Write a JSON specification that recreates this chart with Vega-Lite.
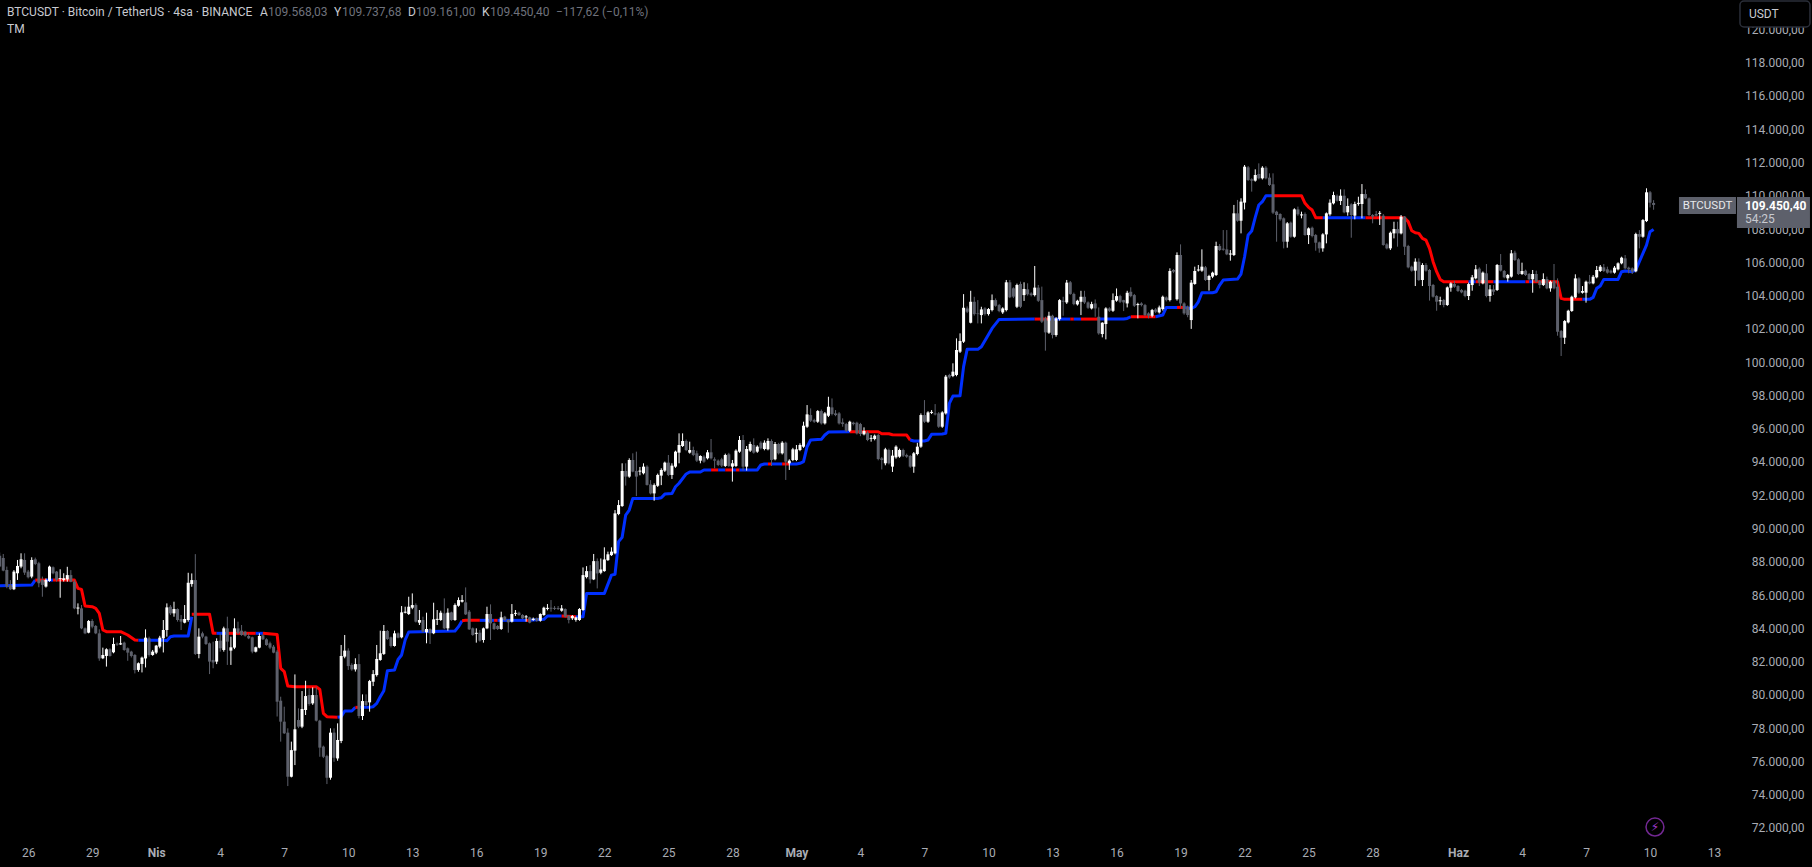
{"$schema":"https://vega.github.io/schema/vega-lite/v6.json","width":1812,"height":867,"autosize":{"type":"none"},"padding":0,"background":"#000000","config":{"view":{"stroke":null},"font":"Roboto"},
"encoding":{"x":{"field":"t","type":"temporal","title":null,"scale":{"type":"utc","domain":["2025-03-24T16:20:00Z","2025-06-17T14:08:00Z"]},"axis":{"orient":"bottom","grid":false,"domain":false,"ticks":false,"labelPadding":-15,"labelBaseline":"middle","labelFont":"Roboto","labelFontSize":12,"labelColor":"#a9acb4","labelOverlap":false,"labelBound":false,"labelFlush":false,"labelFontWeight":{"condition":{"test":"utcdate(datum.value)==1","value":"bold"},"value":"normal"},"values":["2025-03-26T00:00:00Z","2025-03-29T00:00:00Z","2025-04-01T00:00:00Z","2025-04-04T00:00:00Z","2025-04-07T00:00:00Z","2025-04-10T00:00:00Z","2025-04-13T00:00:00Z","2025-04-16T00:00:00Z","2025-04-19T00:00:00Z","2025-04-22T00:00:00Z","2025-04-25T00:00:00Z","2025-04-28T00:00:00Z","2025-05-01T00:00:00Z","2025-05-04T00:00:00Z","2025-05-07T00:00:00Z","2025-05-10T00:00:00Z","2025-05-13T00:00:00Z","2025-05-16T00:00:00Z","2025-05-19T00:00:00Z","2025-05-22T00:00:00Z","2025-05-25T00:00:00Z","2025-05-28T00:00:00Z","2025-06-01T00:00:00Z","2025-06-04T00:00:00Z","2025-06-07T00:00:00Z","2025-06-10T00:00:00Z","2025-06-13T00:00:00Z"],"labelExpr":"utcdate(datum.value)==1 ? (utcmonth(datum.value)==3 ? 'Nis' : utcmonth(datum.value)==4 ? 'May' : 'Haz') : ''+utcdate(datum.value)"}},
"y":{"field":"p","type":"quantitative","title":null,"scale":{"domain":[69654,121769],"nice":false,"zero":false},"axis":{"orient":"right","grid":false,"domain":false,"ticks":false,"labelAlign":"right","labelPadding":-8,"labelFont":"Roboto","labelFontSize":12,"labelColor":"#a9acb4","labelOverlap":false,"labelBound":false,"labelFlush":false,"values":[72000,74000,76000,78000,80000,82000,84000,86000,88000,90000,92000,94000,96000,98000,100000,102000,104000,106000,108000,110000,112000,114000,116000,118000,120000],"labelExpr":"floor(datum.value/1000)+'.000,00'"}}},
"layer":[
{"data":{"format":{"parse":{"t":"utc:'%y%m%d%H'"}},"values":[
{"t":"25032416","p":86560,"g":1,"d":"up"},{"t":"25032604","p":86600,"g":1,"d":"up"},{"t":"25032608","p":86900,"g":1,"d":"up"},
{"t":"25032608","p":86900,"g":2,"d":"down"},{"t":"25032620","p":86900,"g":2,"d":"down"},
{"t":"25032620","p":86900,"g":3,"d":"up"},{"t":"25032704","p":86900,"g":3,"d":"up"},
{"t":"25032704","p":86900,"g":4,"d":"down"},{"t":"25032804","p":86900,"g":4,"d":"down"},{"t":"25032808","p":86400,"g":4,"d":"down"},{"t":"25032812","p":86340,"g":4,"d":"down"},{"t":"25032816","p":85340,"g":4,"d":"down"},{"t":"25032900","p":85300,"g":4,"d":"down"},{"t":"25032904","p":85200,"g":4,"d":"down"},{"t":"25032908","p":84900,"g":4,"d":"down"},{"t":"25032912","p":83900,"g":4,"d":"down"},{"t":"25032916","p":83800,"g":4,"d":"down"},{"t":"25033008","p":83800,"g":4,"d":"down"},{"t":"25033016","p":83600,"g":4,"d":"down"},{"t":"25033100","p":83300,"g":4,"d":"down"},{"t":"25033104","p":83280,"g":4,"d":"down"},
{"t":"25033104","p":83280,"g":5,"d":"up"},{"t":"25040108","p":83280,"g":5,"d":"up"},{"t":"25040112","p":83260,"g":5,"d":"up"},{"t":"25040116","p":83500,"g":5,"d":"up"},{"t":"25040120","p":83540,"g":5,"d":"up"},{"t":"25040212","p":83540,"g":5,"d":"up"},{"t":"25040216","p":84700,"g":5,"d":"up"},
{"t":"25040216","p":84840,"g":6,"d":"down"},{"t":"25040312","p":84840,"g":6,"d":"down"},{"t":"25040316","p":83700,"g":6,"d":"down"},{"t":"25040320","p":83700,"g":6,"d":"down"},
{"t":"25040320","p":83700,"g":7,"d":"up"},{"t":"25040408","p":83700,"g":7,"d":"up"},
{"t":"25040408","p":83700,"g":8,"d":"down"},{"t":"25040516","p":83700,"g":8,"d":"down"},
{"t":"25040516","p":83700,"g":9,"d":"up"},{"t":"25040600","p":83700,"g":9,"d":"up"},
{"t":"25040600","p":83700,"g":10,"d":"down"},{"t":"25040616","p":83630,"g":10,"d":"down"},{"t":"25040620","p":81590,"g":10,"d":"down"},{"t":"25040700","p":81400,"g":10,"d":"down"},{"t":"25040704","p":80530,"g":10,"d":"down"},{"t":"25040712","p":80490,"g":10,"d":"down"},{"t":"25040812","p":80490,"g":10,"d":"down"},{"t":"25040816","p":80330,"g":10,"d":"down"},{"t":"25040820","p":78890,"g":10,"d":"down"},{"t":"25040900","p":78690,"g":10,"d":"down"},{"t":"25040912","p":78650,"g":10,"d":"down"},
{"t":"25040912","p":78650,"g":11,"d":"up"},{"t":"25040916","p":78690,"g":11,"d":"up"},{"t":"25040920","p":79030,"g":11,"d":"up"},{"t":"25041004","p":79030,"g":11,"d":"up"},{"t":"25041008","p":79250,"g":11,"d":"up"},
{"t":"25041008","p":79250,"g":12,"d":"down"},{"t":"25041012","p":79250,"g":12,"d":"down"},
{"t":"25041012","p":79250,"g":13,"d":"up"},{"t":"25041100","p":79250,"g":13,"d":"up"},{"t":"25041104","p":79290,"g":13,"d":"up"},{"t":"25041108","p":79490,"g":13,"d":"up"},{"t":"25041112","p":79890,"g":13,"d":"up"},{"t":"25041116","p":80250,"g":13,"d":"up"},{"t":"25041120","p":81450,"g":13,"d":"up"},{"t":"25041204","p":81490,"g":13,"d":"up"},{"t":"25041208","p":82130,"g":13,"d":"up"},{"t":"25041212","p":82400,"g":13,"d":"up"},{"t":"25041216","p":83300,"g":13,"d":"up"},{"t":"25041220","p":83780,"g":13,"d":"up"},{"t":"25041500","p":83840,"g":13,"d":"up"},{"t":"25041504","p":84100,"g":13,"d":"up"},{"t":"25041508","p":84460,"g":13,"d":"up"},
{"t":"25041508","p":84460,"g":14,"d":"down"},{"t":"25041512","p":84480,"g":14,"d":"down"},{"t":"25041604","p":84480,"g":14,"d":"down"},
{"t":"25041604","p":84480,"g":15,"d":"up"},{"t":"25041620","p":84480,"g":15,"d":"up"},
{"t":"25041620","p":84480,"g":16,"d":"down"},{"t":"25041700","p":84480,"g":16,"d":"down"},
{"t":"25041700","p":84480,"g":17,"d":"up"},{"t":"25041808","p":84480,"g":17,"d":"up"},
{"t":"25041808","p":84480,"g":18,"d":"down"},{"t":"25041812","p":84480,"g":18,"d":"down"},
{"t":"25041812","p":84480,"g":19,"d":"up"},{"t":"25041904","p":84540,"g":19,"d":"up"},{"t":"25041908","p":84740,"g":19,"d":"up"},{"t":"25042000","p":84740,"g":19,"d":"up"},
{"t":"25042000","p":84740,"g":20,"d":"down"},{"t":"25042016","p":84700,"g":20,"d":"down"},
{"t":"25042016","p":84700,"g":21,"d":"up"},{"t":"25042100","p":84700,"g":21,"d":"up"},{"t":"25042104","p":86100,"g":21,"d":"up"},{"t":"25042200","p":86100,"g":21,"d":"up"},{"t":"25042208","p":87200,"g":21,"d":"up"},{"t":"25042212","p":87250,"g":21,"d":"up"},{"t":"25042216","p":89210,"g":21,"d":"up"},{"t":"25042220","p":89470,"g":21,"d":"up"},{"t":"25042300","p":90810,"g":21,"d":"up"},{"t":"25042304","p":91110,"g":21,"d":"up"},{"t":"25042308","p":91810,"g":21,"d":"up"},{"t":"25042412","p":91810,"g":21,"d":"up"},{"t":"25042416","p":91850,"g":21,"d":"up"},{"t":"25042420","p":92070,"g":21,"d":"up"},{"t":"25042504","p":92100,"g":21,"d":"up"},{"t":"25042508","p":92510,"g":21,"d":"up"},{"t":"25042512","p":92720,"g":21,"d":"up"},{"t":"25042520","p":93280,"g":21,"d":"up"},{"t":"25042600","p":93400,"g":21,"d":"up"},{"t":"25042612","p":93400,"g":21,"d":"up"},{"t":"25042616","p":93520,"g":21,"d":"up"},{"t":"25042700","p":93520,"g":21,"d":"up"},
{"t":"25042700","p":93520,"g":22,"d":"down"},{"t":"25042708","p":93520,"g":22,"d":"down"},
{"t":"25042708","p":93520,"g":23,"d":"up"},{"t":"25042716","p":93520,"g":23,"d":"up"},
{"t":"25042716","p":93520,"g":24,"d":"down"},{"t":"25042800","p":93520,"g":24,"d":"down"},
{"t":"25042800","p":93520,"g":25,"d":"up"},{"t":"25042804","p":93520,"g":25,"d":"up"},
{"t":"25042804","p":93520,"g":26,"d":"down"},{"t":"25042808","p":93520,"g":26,"d":"down"},
{"t":"25042808","p":93520,"g":27,"d":"up"},{"t":"25042904","p":93520,"g":27,"d":"up"},{"t":"25042908","p":93820,"g":27,"d":"up"},{"t":"25042912","p":93880,"g":27,"d":"up"},{"t":"25042916","p":93880,"g":27,"d":"up"},
{"t":"25042916","p":93880,"g":28,"d":"down"},{"t":"25042920","p":93880,"g":28,"d":"down"},
{"t":"25042920","p":93880,"g":29,"d":"up"},{"t":"25043008","p":93880,"g":29,"d":"up"},
{"t":"25043008","p":93880,"g":30,"d":"down"},{"t":"25043016","p":93880,"g":30,"d":"down"},
{"t":"25043016","p":93880,"g":31,"d":"up"},{"t":"25050100","p":93880,"g":31,"d":"up"},{"t":"25050104","p":93920,"g":31,"d":"up"},{"t":"25050108","p":94020,"g":31,"d":"up"},{"t":"25050112","p":94920,"g":31,"d":"up"},{"t":"25050116","p":95320,"g":31,"d":"up"},{"t":"25050204","p":95360,"g":31,"d":"up"},{"t":"25050208","p":95620,"g":31,"d":"up"},{"t":"25050212","p":95800,"g":31,"d":"up"},{"t":"25050312","p":95820,"g":31,"d":"up"},
{"t":"25050312","p":95820,"g":32,"d":"down"},{"t":"25050420","p":95820,"g":32,"d":"down"},{"t":"25050500","p":95700,"g":32,"d":"down"},{"t":"25050508","p":95700,"g":32,"d":"down"},{"t":"25050512","p":95640,"g":32,"d":"down"},{"t":"25050604","p":95620,"g":32,"d":"down"},{"t":"25050608","p":95320,"g":32,"d":"down"},
{"t":"25050608","p":95320,"g":33,"d":"up"},{"t":"25050612","p":95260,"g":33,"d":"up"},{"t":"25050700","p":95260,"g":33,"d":"up"},{"t":"25050704","p":95320,"g":33,"d":"up"},{"t":"25050708","p":95660,"g":33,"d":"up"},{"t":"25050720","p":95680,"g":33,"d":"up"},{"t":"25050800","p":95720,"g":33,"d":"up"},{"t":"25050804","p":97520,"g":33,"d":"up"},{"t":"25050808","p":97960,"g":33,"d":"up"},{"t":"25050816","p":97980,"g":33,"d":"up"},{"t":"25050820","p":99730,"g":33,"d":"up"},{"t":"25050900","p":100770,"g":33,"d":"up"},{"t":"25050912","p":100770,"g":33,"d":"up"},{"t":"25050916","p":100930,"g":33,"d":"up"},{"t":"25051004","p":102030,"g":33,"d":"up"},{"t":"25051012","p":102570,"g":33,"d":"up"},{"t":"25051204","p":102590,"g":33,"d":"up"},
{"t":"25051204","p":102590,"g":34,"d":"down"},{"t":"25051220","p":102590,"g":34,"d":"down"},
{"t":"25051220","p":102590,"g":35,"d":"up"},{"t":"25051320","p":102590,"g":35,"d":"up"},
{"t":"25051320","p":102590,"g":36,"d":"down"},{"t":"25051400","p":102590,"g":36,"d":"down"},
{"t":"25051400","p":102590,"g":37,"d":"up"},{"t":"25051408","p":102590,"g":37,"d":"up"},
{"t":"25051408","p":102590,"g":38,"d":"down"},{"t":"25051504","p":102590,"g":38,"d":"down"},
{"t":"25051504","p":102590,"g":39,"d":"up"},{"t":"25051608","p":102590,"g":39,"d":"up"},{"t":"25051612","p":102630,"g":39,"d":"up"},{"t":"25051616","p":102730,"g":39,"d":"up"},
{"t":"25051616","p":102730,"g":40,"d":"down"},{"t":"25051720","p":102730,"g":40,"d":"down"},
{"t":"25051720","p":102730,"g":41,"d":"up"},{"t":"25051804","p":102830,"g":41,"d":"up"},{"t":"25051808","p":103290,"g":41,"d":"up"},{"t":"25051820","p":103290,"g":41,"d":"up"},
{"t":"25051820","p":103290,"g":42,"d":"down"},{"t":"25051904","p":103290,"g":42,"d":"down"},
{"t":"25051904","p":103290,"g":43,"d":"up"},{"t":"25051912","p":103230,"g":43,"d":"up"},{"t":"25051916","p":103330,"g":43,"d":"up"},{"t":"25051920","p":103630,"g":43,"d":"up"},{"t":"25052000","p":104175,"g":43,"d":"up"},{"t":"25052012","p":104175,"g":43,"d":"up"},{"t":"25052016","p":104235,"g":43,"d":"up"},{"t":"25052020","p":104635,"g":43,"d":"up"},{"t":"25052100","p":104935,"g":43,"d":"up"},{"t":"25052116","p":104995,"g":43,"d":"up"},{"t":"25052120","p":105295,"g":43,"d":"up"},{"t":"25052200","p":106340,"g":43,"d":"up"},{"t":"25052204","p":107640,"g":43,"d":"up"},{"t":"25052208","p":107880,"g":43,"d":"up"},{"t":"25052212","p":108705,"g":43,"d":"up"},{"t":"25052216","p":109445,"g":43,"d":"up"},{"t":"25052220","p":109645,"g":43,"d":"up"},{"t":"25052300","p":110005,"g":43,"d":"up"},{"t":"25052308","p":110005,"g":43,"d":"up"},
{"t":"25052308","p":110005,"g":44,"d":"down"},{"t":"25052416","p":110005,"g":44,"d":"down"},{"t":"25052420","p":109550,"g":44,"d":"down"},{"t":"25052500","p":109305,"g":44,"d":"down"},{"t":"25052504","p":109145,"g":44,"d":"down"},{"t":"25052508","p":108685,"g":44,"d":"down"},{"t":"25052516","p":108685,"g":44,"d":"down"},
{"t":"25052516","p":108685,"g":45,"d":"up"},{"t":"25052716","p":108685,"g":45,"d":"up"},
{"t":"25052716","p":108685,"g":46,"d":"down"},{"t":"25052908","p":108685,"g":46,"d":"down"},{"t":"25052912","p":108665,"g":46,"d":"down"},{"t":"25052916","p":108445,"g":46,"d":"down"},{"t":"25052920","p":107900,"g":46,"d":"down"},{"t":"25053000","p":107780,"g":46,"d":"down"},{"t":"25053004","p":107740,"g":46,"d":"down"},{"t":"25053008","p":107440,"g":46,"d":"down"},{"t":"25053012","p":107340,"g":46,"d":"down"},{"t":"25053016","p":106840,"g":46,"d":"down"},{"t":"25053020","p":106040,"g":46,"d":"down"},{"t":"25053100","p":105440,"g":46,"d":"down"},{"t":"25053104","p":104975,"g":46,"d":"down"},{"t":"25053108","p":104835,"g":46,"d":"down"},{"t":"25060112","p":104835,"g":46,"d":"down"},
{"t":"25060112","p":104835,"g":47,"d":"up"},{"t":"25060120","p":104835,"g":47,"d":"up"},
{"t":"25060120","p":104835,"g":48,"d":"down"},{"t":"25060216","p":104835,"g":48,"d":"down"},
{"t":"25060216","p":104835,"g":49,"d":"up"},{"t":"25060404","p":104835,"g":49,"d":"up"},
{"t":"25060404","p":104835,"g":50,"d":"down"},{"t":"25060408","p":104835,"g":50,"d":"down"},
{"t":"25060408","p":104835,"g":51,"d":"up"},{"t":"25060412","p":104835,"g":51,"d":"up"},
{"t":"25060412","p":104835,"g":52,"d":"down"},{"t":"25060516","p":104835,"g":52,"d":"down"},{"t":"25060520","p":103835,"g":52,"d":"down"},{"t":"25060600","p":103775,"g":52,"d":"down"},{"t":"25060620","p":103775,"g":52,"d":"down"},
{"t":"25060620","p":103775,"g":53,"d":"up"},{"t":"25060704","p":103775,"g":53,"d":"up"},{"t":"25060708","p":103895,"g":53,"d":"up"},{"t":"25060712","p":104435,"g":53,"d":"up"},{"t":"25060716","p":104575,"g":53,"d":"up"},{"t":"25060720","p":104975,"g":53,"d":"up"},{"t":"25060812","p":104975,"g":53,"d":"up"},{"t":"25060816","p":105440,"g":53,"d":"up"},{"t":"25060820","p":105480,"g":53,"d":"up"},{"t":"25060904","p":105440,"g":53,"d":"up"},{"t":"25060908","p":105540,"g":53,"d":"up"},{"t":"25060912","p":106040,"g":53,"d":"up"},{"t":"25060916","p":106540,"g":53,"d":"up"},{"t":"25060920","p":107040,"g":53,"d":"up"},{"t":"25061000","p":107840,"g":53,"d":"up"},{"t":"25061004","p":107980,"g":53,"d":"up"}
]},
"mark":{"type":"line","strokeWidth":3,"strokeJoin":"round","strokeCap":"butt","interpolate":"linear"},
"encoding":{"color":{"field":"d","type":"nominal","legend":null,"scale":{"domain":["up","down","head","val"],"range":["#0030ff","#ff0000","#c8cad0","#6f727c"]}},"detail":{"field":"g"},"order":{"field":"t","type":"temporal"}}},
{"data":{"format":{"parse":{"t":"utc:'%y%m%d%H'"}},"values":[
{"t":"25032416","o":88357,"h":88557,"l":87677,"c":87717},{"t":"25032420","o":88230,"h":88470,"l":87430,"c":87470},
{"t":"25032500","o":87510,"h":87710,"l":86410,"c":86510},{"t":"25032504","o":86600,"h":86900,"l":86300,"c":86350},{"t":"25032508","o":86350,"h":87500,"l":86300,"c":87410},{"t":"25032512","o":87310,"h":88110,"l":86910,"c":87750},{"t":"25032516","o":87710,"h":88510,"l":87610,"c":88150},{"t":"25032520","o":88110,"h":88510,"l":87210,"c":87350},
{"t":"25032600","o":87410,"h":87510,"l":87000,"c":87070},{"t":"25032604","o":87110,"h":88270,"l":87010,"c":88110},{"t":"25032608","o":88150,"h":88250,"l":87800,"c":87870},{"t":"25032612","o":87910,"h":88000,"l":86470,"c":86710},{"t":"25032616","o":86910,"h":87110,"l":85900,"c":86610},{"t":"25032620","o":86510,"h":87000,"l":86450,"c":86910},
{"t":"25032700","o":86850,"h":87770,"l":86800,"c":87710},{"t":"25032704","o":87670,"h":87720,"l":87250,"c":87310},{"t":"25032708","o":87410,"h":87450,"l":86810,"c":86910},{"t":"25032712","o":86960,"h":87550,"l":85840,"c":87020},{"t":"25032716","o":86910,"h":87310,"l":86810,"c":87010},{"t":"25032720","o":86940,"h":87700,"l":86800,"c":87200},
{"t":"25032800","o":87200,"h":87500,"l":86770,"c":86800},{"t":"25032804","o":86800,"h":86900,"l":85150,"c":85200},{"t":"25032808","o":85190,"h":85500,"l":84840,"c":85250},{"t":"25032812","o":85200,"h":85400,"l":83950,"c":84000},{"t":"25032816","o":84000,"h":84050,"l":83650,"c":83700},{"t":"25032820","o":83740,"h":84500,"l":83700,"c":84440},
{"t":"25032900","o":84440,"h":84550,"l":84000,"c":84100},{"t":"25032904","o":84140,"h":84200,"l":83650,"c":83700},{"t":"25032908","o":83700,"h":83940,"l":82050,"c":82190},{"t":"25032912","o":82200,"h":82840,"l":82150,"c":82400},{"t":"25032916","o":82340,"h":82800,"l":81700,"c":82740},{"t":"25032920","o":82740,"h":82800,"l":82300,"c":82340},
{"t":"25033000","o":82560,"h":83440,"l":82500,"c":83060},{"t":"25033004","o":83080,"h":83150,"l":82950,"c":83020},{"t":"25033008","o":83030,"h":83540,"l":83000,"c":83100},{"t":"25033012","o":83140,"h":83200,"l":82650,"c":82700},{"t":"25033016","o":82800,"h":82850,"l":82050,"c":82540},{"t":"25033020","o":82600,"h":82650,"l":82250,"c":82340},
{"t":"25033100","o":82400,"h":82450,"l":81290,"c":81490},{"t":"25033104","o":81500,"h":81950,"l":81390,"c":81900},{"t":"25033108","o":81860,"h":82300,"l":81350,"c":82240},{"t":"25033112","o":82190,"h":83940,"l":81650,"c":83440},{"t":"25033116","o":83400,"h":83500,"l":82300,"c":82400},{"t":"25033120","o":82400,"h":82700,"l":82350,"c":82600},
{"t":"25040100","o":82540,"h":83000,"l":82450,"c":82960},{"t":"25040104","o":82900,"h":83550,"l":82800,"c":83440},{"t":"25040108","o":83400,"h":84500,"l":82550,"c":83900},{"t":"25040112","o":83900,"h":85500,"l":83500,"c":85260},{"t":"25040116","o":85300,"h":85400,"l":84800,"c":84900},{"t":"25040120","o":84900,"h":85600,"l":84700,"c":85160},
{"t":"25040200","o":85160,"h":85200,"l":84400,"c":84500},{"t":"25040204","o":84560,"h":84800,"l":83900,"c":84400},{"t":"25040208","o":84340,"h":85400,"l":84300,"c":84560},{"t":"25040212","o":84500,"h":87340,"l":84400,"c":86740},{"t":"25040216","o":86660,"h":87300,"l":86500,"c":86900},{"t":"25040220","o":86900,"h":88460,"l":82400,"c":82460},
{"t":"25040300","o":82460,"h":84000,"l":82200,"c":83500},{"t":"25040304","o":83700,"h":83800,"l":83400,"c":83500},{"t":"25040308","o":83500,"h":83550,"l":83000,"c":83060},{"t":"25040312","o":83100,"h":83150,"l":81250,"c":82000},{"t":"25040316","o":82100,"h":83200,"l":81600,"c":81950},{"t":"25040320","o":82000,"h":83400,"l":81850,"c":83240},
{"t":"25040400","o":83260,"h":83700,"l":82600,"c":82800},{"t":"25040404","o":82700,"h":84100,"l":82600,"c":84000},{"t":"25040408","o":84000,"h":84700,"l":81800,"c":83200},{"t":"25040412","o":82660,"h":83500,"l":81800,"c":82860},{"t":"25040416","o":82840,"h":84600,"l":82750,"c":84000},{"t":"25040420","o":84000,"h":84400,"l":83650,"c":83700},
{"t":"25040500","o":83860,"h":84200,"l":83550,"c":83600},{"t":"25040504","o":83800,"h":83850,"l":83500,"c":83560},{"t":"25040508","o":83540,"h":83700,"l":83350,"c":83400},{"t":"25040512","o":83460,"h":83500,"l":82500,"c":82600},{"t":"25040516","o":82600,"h":82900,"l":82550,"c":82860},{"t":"25040520","o":82840,"h":83700,"l":82800,"c":83540},
{"t":"25040600","o":83580,"h":83650,"l":83300,"c":83340},{"t":"25040604","o":83340,"h":83400,"l":82950,"c":83000},{"t":"25040608","o":83100,"h":83200,"l":82750,"c":82840},{"t":"25040612","o":82900,"h":83000,"l":82500,"c":82540},{"t":"25040616","o":82600,"h":82700,"l":78700,"c":79590},{"t":"25040620","o":79650,"h":79890,"l":77190,"c":78390},
{"t":"25040700","o":78390,"h":79290,"l":77650,"c":77690},{"t":"25040704","o":77730,"h":77990,"l":74520,"c":75080},{"t":"25040708","o":75080,"h":77190,"l":75040,"c":76680},{"t":"25040712","o":76650,"h":81230,"l":75780,"c":77930},{"t":"25040716","o":78490,"h":79190,"l":78000,"c":78090},{"t":"25040720","o":78090,"h":80230,"l":78000,"c":79150},
{"t":"25040800","o":79090,"h":80850,"l":78790,"c":79930},{"t":"25040804","o":79990,"h":80390,"l":79350,"c":79450},{"t":"25040808","o":79490,"h":80450,"l":79400,"c":79990},{"t":"25040812","o":79990,"h":80490,"l":78400,"c":78450},{"t":"25040816","o":78450,"h":78500,"l":76280,"c":76830},{"t":"25040820","o":76890,"h":76950,"l":76200,"c":76280},
{"t":"25040900","o":76320,"h":76400,"l":74640,"c":75020},{"t":"25040904","o":75020,"h":77990,"l":74900,"c":77730},{"t":"25040908","o":77730,"h":77990,"l":75980,"c":76220},{"t":"25040912","o":76180,"h":78290,"l":76040,"c":77290},{"t":"25040916","o":77230,"h":83000,"l":77100,"c":82340},{"t":"25040920","o":82300,"h":83600,"l":82200,"c":82660},
{"t":"25041000","o":82660,"h":82800,"l":81500,"c":81730},{"t":"25041004","o":81800,"h":81900,"l":81450,"c":81530},{"t":"25041008","o":81530,"h":82200,"l":81400,"c":81850},{"t":"25041012","o":81850,"h":82450,"l":78590,"c":78730},{"t":"25041016","o":78730,"h":80030,"l":78490,"c":79630},{"t":"25041020","o":79630,"h":80030,"l":79300,"c":79390},
{"t":"25041100","o":79550,"h":80900,"l":78990,"c":80830},{"t":"25041104","o":80790,"h":81490,"l":80530,"c":81250},{"t":"25041108","o":81190,"h":83000,"l":81100,"c":82160},{"t":"25041112","o":82100,"h":83860,"l":82050,"c":82500},{"t":"25041116","o":82460,"h":84200,"l":82400,"c":83840},{"t":"25041120","o":83840,"h":83900,"l":83300,"c":83360},
{"t":"25041200","o":83460,"h":83500,"l":82850,"c":82940},{"t":"25041204","o":82940,"h":83860,"l":82900,"c":83700},{"t":"25041208","o":83700,"h":83750,"l":83400,"c":83440},{"t":"25041212","o":83460,"h":85340,"l":83400,"c":84960},{"t":"25041216","o":84940,"h":85300,"l":84900,"c":85000},{"t":"25041220","o":84860,"h":85900,"l":84800,"c":85300},
{"t":"25041300","o":85240,"h":86100,"l":85150,"c":85400},{"t":"25041304","o":85400,"h":85500,"l":84350,"c":84400},{"t":"25041308","o":84340,"h":85100,"l":84200,"c":84500},{"t":"25041312","o":84500,"h":84700,"l":83750,"c":83800},{"t":"25041316","o":83760,"h":84940,"l":83100,"c":83960},{"t":"25041320","o":83960,"h":84000,"l":83060,"c":83700},
{"t":"25041400","o":83700,"h":85540,"l":83650,"c":84540},{"t":"25041404","o":84510,"h":85100,"l":84200,"c":84570},{"t":"25041408","o":84500,"h":85060,"l":84450,"c":84940},{"t":"25041412","o":84900,"h":85800,"l":83950,"c":84000},{"t":"25041416","o":84000,"h":85200,"l":83860,"c":84940},{"t":"25041420","o":84960,"h":85000,"l":84450,"c":84500},
{"t":"25041500","o":84500,"h":85500,"l":84450,"c":85400},{"t":"25041504","o":85360,"h":85860,"l":85300,"c":85700},{"t":"25041508","o":85600,"h":86000,"l":85550,"c":85700},{"t":"25041512","o":85560,"h":86460,"l":84800,"c":84840},{"t":"25041516","o":85000,"h":85100,"l":83900,"c":83940},{"t":"25041520","o":84000,"h":84050,"l":83550,"c":83600},
{"t":"25041600","o":83670,"h":84000,"l":83140,"c":83730},{"t":"25041604","o":83740,"h":83900,"l":83200,"c":83260},{"t":"25041608","o":83300,"h":84050,"l":83140,"c":84000},{"t":"25041612","o":84000,"h":85300,"l":83950,"c":84860},{"t":"25041616","o":84860,"h":85440,"l":83300,"c":84300},{"t":"25041620","o":84300,"h":84350,"l":83900,"c":83960},
{"t":"25041700","o":84140,"h":84200,"l":83900,"c":83960},{"t":"25041704","o":83960,"h":85000,"l":83900,"c":84660},{"t":"25041708","o":84700,"h":84750,"l":84450,"c":84500},{"t":"25041712","o":84500,"h":84550,"l":83740,"c":84360},{"t":"25041716","o":84400,"h":85460,"l":84350,"c":84860},{"t":"25041720","o":84870,"h":85100,"l":84740,"c":84930},
{"t":"25041800","o":84940,"h":85000,"l":84750,"c":84800},{"t":"25041804","o":84800,"h":84850,"l":84550,"c":84600},{"t":"25041808","o":84660,"h":84800,"l":84400,"c":84720},{"t":"25041812","o":84660,"h":84700,"l":84300,"c":84340},{"t":"25041816","o":84500,"h":84650,"l":84450,"c":84580},{"t":"25041820","o":84600,"h":84650,"l":84400,"c":84460},
{"t":"25041900","o":84460,"h":84900,"l":84400,"c":84860},{"t":"25041904","o":84800,"h":85300,"l":84750,"c":85240},{"t":"25041908","o":85170,"h":85460,"l":85080,"c":85230},{"t":"25041912","o":85240,"h":85700,"l":85000,"c":85180},{"t":"25041916","o":85230,"h":85340,"l":85100,"c":85170},{"t":"25041920","o":85220,"h":85340,"l":85100,"c":85160},
{"t":"25042000","o":85060,"h":85400,"l":85000,"c":85200},{"t":"25042004","o":85160,"h":85200,"l":84650,"c":84700},{"t":"25042008","o":84760,"h":84800,"l":84300,"c":84500},{"t":"25042012","o":84600,"h":84800,"l":84500,"c":84740},{"t":"25042016","o":84500,"h":84700,"l":84400,"c":84660},{"t":"25042020","o":84500,"h":85220,"l":84450,"c":85160},
{"t":"25042100","o":85100,"h":87660,"l":85050,"c":87200},{"t":"25042104","o":87080,"h":87740,"l":87000,"c":87440},{"t":"25042108","o":87440,"h":87800,"l":86700,"c":86940},{"t":"25042112","o":86940,"h":88470,"l":86900,"c":88040},{"t":"25042116","o":88040,"h":88200,"l":86400,"c":87300},{"t":"25042120","o":87340,"h":88200,"l":87250,"c":87540},
{"t":"25042200","o":87440,"h":88870,"l":87400,"c":88140},{"t":"25042204","o":88100,"h":88610,"l":88050,"c":88450},{"t":"25042208","o":88400,"h":88870,"l":88350,"c":88610},{"t":"25042212","o":88510,"h":91110,"l":88450,"c":90910},{"t":"25042216","o":90870,"h":91710,"l":90800,"c":91410},{"t":"25042220","o":91350,"h":93920,"l":91300,"c":93460},
{"t":"25042300","o":93460,"h":93920,"l":92580,"c":93120},{"t":"25042304","o":93120,"h":94220,"l":93050,"c":94120},{"t":"25042308","o":94120,"h":94520,"l":93380,"c":93420},{"t":"25042312","o":93460,"h":94620,"l":91950,"c":93120},{"t":"25042316","o":93420,"h":93700,"l":93200,"c":93480},{"t":"25042320","o":93320,"h":93920,"l":93250,"c":93720},
{"t":"25042400","o":93720,"h":93800,"l":92580,"c":92620},{"t":"25042404","o":92650,"h":92910,"l":92050,"c":92110},{"t":"25042408","o":92110,"h":92710,"l":91670,"c":92610},{"t":"25042412","o":92570,"h":93300,"l":92500,"c":93220},{"t":"25042416","o":93180,"h":93620,"l":92610,"c":93520},{"t":"25042420","o":93480,"h":94020,"l":93400,"c":93960},
{"t":"25042500","o":93960,"h":94420,"l":93150,"c":93220},{"t":"25042504","o":93220,"h":93920,"l":92980,"c":93780},{"t":"25042508","o":93720,"h":94680,"l":93650,"c":94620},{"t":"25042512","o":94560,"h":95720,"l":93920,"c":95020},{"t":"25042516","o":94960,"h":95720,"l":94900,"c":95260},{"t":"25042520","o":95260,"h":95350,"l":94650,"c":94720},
{"t":"25042600","o":94560,"h":95220,"l":94500,"c":94720},{"t":"25042604","o":94720,"h":94920,"l":94350,"c":94420},{"t":"25042608","o":94520,"h":94680,"l":94000,"c":94080},{"t":"25042612","o":94080,"h":94400,"l":93920,"c":94360},{"t":"25042616","o":94320,"h":94400,"l":93950,"c":94020},{"t":"25042620","o":94220,"h":94720,"l":94150,"c":94580},
{"t":"25042700","o":94580,"h":95380,"l":94150,"c":94220},{"t":"25042704","o":94160,"h":94280,"l":93620,"c":94080},{"t":"25042708","o":94080,"h":94150,"l":93750,"c":93820},{"t":"25042712","o":94160,"h":94250,"l":93700,"c":93780},{"t":"25042716","o":93760,"h":94500,"l":93700,"c":94420},{"t":"25042720","o":94460,"h":94550,"l":93700,"c":93760},
{"t":"25042800","o":93720,"h":94120,"l":92820,"c":93920},{"t":"25042804","o":93760,"h":94760,"l":93700,"c":94680},{"t":"25042808","o":94620,"h":95560,"l":94550,"c":95320},{"t":"25042812","o":95320,"h":95620,"l":93480,"c":93720},{"t":"25042816","o":93720,"h":94960,"l":93480,"c":94780},{"t":"25042820","o":94680,"h":95220,"l":94600,"c":95080},
{"t":"25042900","o":95020,"h":95420,"l":94500,"c":94560},{"t":"25042904","o":94620,"h":95000,"l":94550,"c":94920},{"t":"25042908","o":95160,"h":95250,"l":94750,"c":94820},{"t":"25042912","o":94780,"h":95300,"l":94700,"c":95160},{"t":"25042916","o":94760,"h":95420,"l":94700,"c":95260},{"t":"25042920","o":95260,"h":95360,"l":93760,"c":94120},
{"t":"25043000","o":94160,"h":95200,"l":94100,"c":95080},{"t":"25043004","o":95080,"h":95150,"l":94450,"c":94520},{"t":"25043008","o":94520,"h":95250,"l":94450,"c":95160},{"t":"25043012","o":95160,"h":95220,"l":92920,"c":94020},{"t":"25043016","o":93920,"h":94160,"l":93520,"c":94080},{"t":"25043020","o":94120,"h":94850,"l":94050,"c":94760},
{"t":"25050100","o":94120,"h":95020,"l":94050,"c":94760},{"t":"25050104","o":94720,"h":95120,"l":94650,"c":95020},{"t":"25050108","o":94920,"h":96420,"l":94850,"c":96180},{"t":"25050112","o":96120,"h":97420,"l":96050,"c":96860},{"t":"25050116","o":96820,"h":97220,"l":96400,"c":96480},{"t":"25050120","o":96520,"h":96600,"l":96350,"c":96420},
{"t":"25050200","o":96420,"h":97120,"l":96350,"c":97060},{"t":"25050204","o":97060,"h":97150,"l":96250,"c":96320},{"t":"25050208","o":96320,"h":97000,"l":96250,"c":96920},{"t":"25050212","o":96780,"h":97920,"l":96700,"c":97320},{"t":"25050216","o":97280,"h":97820,"l":96800,"c":96880},{"t":"25050220","o":96920,"h":97120,"l":96750,"c":96820},
{"t":"25050300","o":96920,"h":97000,"l":96250,"c":96320},{"t":"25050304","o":96380,"h":96620,"l":96120,"c":96280},{"t":"25050308","o":96280,"h":96350,"l":95800,"c":95880},{"t":"25050312","o":95880,"h":96480,"l":95800,"c":96420},{"t":"25050316","o":96360,"h":96420,"l":96200,"c":96280},{"t":"25050320","o":96360,"h":96420,"l":95650,"c":95720},
{"t":"25050400","o":96280,"h":96350,"l":95550,"c":95680},{"t":"25050404","o":95660,"h":96080,"l":95600,"c":95860},{"t":"25050408","o":95760,"h":95850,"l":95250,"c":95320},{"t":"25050412","o":95390,"h":95620,"l":95220,"c":95450},{"t":"25050416","o":95380,"h":95650,"l":95300,"c":95580},{"t":"25050420","o":95620,"h":95700,"l":94100,"c":94180},
{"t":"25050500","o":94220,"h":94300,"l":93550,"c":94120},{"t":"25050504","o":93920,"h":94850,"l":93800,"c":94760},{"t":"25050508","o":94720,"h":94800,"l":93850,"c":93920},{"t":"25050512","o":93720,"h":94720,"l":93400,"c":94380},{"t":"25050516","o":94280,"h":95000,"l":94200,"c":94920},{"t":"25050520","o":94320,"h":94800,"l":94250,"c":94720},
{"t":"25050600","o":94720,"h":94800,"l":94300,"c":94380},{"t":"25050604","o":94420,"h":94500,"l":94250,"c":94320},{"t":"25050608","o":94360,"h":94420,"l":93650,"c":93720},{"t":"25050612","o":93720,"h":94600,"l":93350,"c":94520},{"t":"25050616","o":94480,"h":95150,"l":94400,"c":94920},{"t":"25050620","o":94920,"h":96920,"l":94850,"c":96820},
{"t":"25050700","o":96820,"h":97720,"l":96350,"c":96420},{"t":"25050704","o":96420,"h":97050,"l":96350,"c":96980},{"t":"25050708","o":96950,"h":97120,"l":96880,"c":97010},{"t":"25050712","o":96920,"h":97480,"l":96800,"c":96860},{"t":"25050716","o":96920,"h":97000,"l":96050,"c":96120},{"t":"25050720","o":96120,"h":97050,"l":96050,"c":96980},
{"t":"25050800","o":96920,"h":99230,"l":96850,"c":99130},{"t":"25050804","o":99230,"h":99300,"l":99000,"c":99080},{"t":"25050808","o":99170,"h":99930,"l":99100,"c":99430},{"t":"25050812","o":99230,"h":101430,"l":99150,"c":100730},{"t":"25050816","o":100630,"h":101730,"l":100550,"c":101270},{"t":"25050820","o":101230,"h":104090,"l":101150,"c":103270},
{"t":"25050900","o":103230,"h":103350,"l":102950,"c":103030},{"t":"25050904","o":102370,"h":104290,"l":102330,"c":103630},{"t":"25050908","o":103630,"h":103930,"l":102800,"c":102890},{"t":"25050912","o":102930,"h":103730,"l":102330,"c":102890},{"t":"25050916","o":102830,"h":103330,"l":102330,"c":103170},{"t":"25050920","o":103230,"h":103300,"l":102800,"c":102890},
{"t":"25051000","o":102890,"h":103250,"l":102800,"c":103190},{"t":"25051004","o":103130,"h":104070,"l":103050,"c":103730},{"t":"25051008","o":103730,"h":103830,"l":103330,"c":103390},{"t":"25051012","o":103430,"h":103500,"l":103000,"c":103070},{"t":"25051016","o":102990,"h":103300,"l":102900,"c":103230},{"t":"25051020","o":103130,"h":104940,"l":103050,"c":104800},
{"t":"25051100","o":104800,"h":104940,"l":103850,"c":103900},{"t":"25051104","o":104440,"h":104500,"l":103850,"c":103940},{"t":"25051108","o":103330,"h":104720,"l":103250,"c":104640},{"t":"25051112","o":104700,"h":104840,"l":103250,"c":103330},{"t":"25051116","o":104030,"h":104800,"l":103680,"c":104400},{"t":"25051120","o":104380,"h":104740,"l":104000,"c":104080},
{"t":"25051200","o":104130,"h":104200,"l":103950,"c":104030},{"t":"25051204","o":104030,"h":105780,"l":103950,"c":104480},{"t":"25051208","o":104480,"h":104640,"l":103620,"c":103690},{"t":"25051212","o":103730,"h":104540,"l":102350,"c":102430},{"t":"25051216","o":102630,"h":102730,"l":100690,"c":101790},{"t":"25051220","o":101770,"h":103030,"l":101700,"c":102790},
{"t":"25051300","o":102790,"h":102850,"l":101430,"c":101630},{"t":"25051304","o":101630,"h":102700,"l":101530,"c":102630},{"t":"25051308","o":102590,"h":103790,"l":102500,"c":103730},{"t":"25051312","o":103690,"h":103930,"l":102790,"c":103630},{"t":"25051316","o":103590,"h":104940,"l":103500,"c":104780},{"t":"25051320","o":104800,"h":104880,"l":104050,"c":104100},
{"t":"25051400","o":104100,"h":104180,"l":103420,"c":103490},{"t":"25051404","o":103470,"h":103750,"l":103400,"c":103690},{"t":"25051408","o":103630,"h":104290,"l":102830,"c":103930},{"t":"25051412","o":103930,"h":104290,"l":103500,"c":103590},{"t":"25051416","o":103590,"h":103650,"l":103200,"c":103270},{"t":"25051420","o":103230,"h":103630,"l":103170,"c":103490},
{"t":"25051500","o":103530,"h":103770,"l":102730,"c":103230},{"t":"25051504","o":102730,"h":103290,"l":101650,"c":101730},{"t":"25051508","o":101690,"h":102400,"l":101490,"c":102370},{"t":"25051512","o":102290,"h":103300,"l":101370,"c":103230},{"t":"25051516","o":103230,"h":103300,"l":103020,"c":103090},{"t":"25051520","o":103090,"h":104130,"l":103020,"c":103730},
{"t":"25051600","o":103700,"h":104430,"l":103630,"c":103970},{"t":"25051604","o":103970,"h":104050,"l":103550,"c":103630},{"t":"25051608","o":103730,"h":103750,"l":103070,"c":103590},{"t":"25051612","o":103530,"h":104290,"l":103290,"c":104170},{"t":"25051616","o":104230,"h":104500,"l":103900,"c":103970},{"t":"25051620","o":104030,"h":104100,"l":103320,"c":103390},
{"t":"25051700","o":103430,"h":103570,"l":102630,"c":103490},{"t":"25051704","o":103530,"h":103600,"l":103350,"c":103430},{"t":"25051708","o":103430,"h":103500,"l":102750,"c":102830},{"t":"25051712","o":102930,"h":103000,"l":102630,"c":102790},{"t":"25051716","o":102790,"h":103200,"l":102700,"c":103130},{"t":"25051720","o":103170,"h":103250,"l":102950,"c":103030},
{"t":"25051800","o":102990,"h":103400,"l":102920,"c":103290},{"t":"25051804","o":103190,"h":104000,"l":103100,"c":103930},{"t":"25051808","o":103890,"h":103950,"l":103650,"c":103730},{"t":"25051812","o":103730,"h":105640,"l":103650,"c":105480},{"t":"25051816","o":105540,"h":105600,"l":105350,"c":105440},{"t":"25051820","o":103780,"h":106600,"l":103700,"c":106440},
{"t":"25051900","o":106440,"h":107080,"l":103230,"c":103530},{"t":"25051904","o":103530,"h":103600,"l":102850,"c":102930},{"t":"25051908","o":103330,"h":103400,"l":102700,"c":102830},{"t":"25051912","o":102530,"h":104940,"l":102000,"c":104780},{"t":"25051916","o":104700,"h":105740,"l":104650,"c":105480},{"t":"25051920","o":105510,"h":105840,"l":105450,"c":105570},
{"t":"25052000","o":105500,"h":106780,"l":105430,"c":105740},{"t":"25052004","o":105700,"h":105780,"l":104880,"c":104940},{"t":"25052008","o":104940,"h":105250,"l":104300,"c":105180},{"t":"25052012","o":105140,"h":105440,"l":105050,"c":105380},{"t":"25052016","o":105240,"h":107240,"l":105180,"c":106980},{"t":"25052020","o":106980,"h":107100,"l":106680,"c":106740},
{"t":"25052100","o":106820,"h":107940,"l":106700,"c":106760},{"t":"25052104","o":106780,"h":107940,"l":106430,"c":106480},{"t":"25052108","o":106470,"h":106740,"l":106100,"c":106530},{"t":"25052112","o":106440,"h":109450,"l":106380,"c":108945},{"t":"25052116","o":108945,"h":109750,"l":108440,"c":108500},{"t":"25052120","o":108500,"h":109850,"l":107740,"c":109650},
{"t":"25052200","o":109590,"h":111850,"l":109180,"c":111750},{"t":"25052204","o":111710,"h":111790,"l":110890,"c":110950},{"t":"25052208","o":110990,"h":111050,"l":110250,"c":110910},{"t":"25052212","o":110910,"h":111590,"l":110850,"c":111250},{"t":"25052216","o":111310,"h":111950,"l":110990,"c":111050},{"t":"25052220","o":111050,"h":111780,"l":110980,"c":111690},
{"t":"25052300","o":111690,"h":111780,"l":110990,"c":111050},{"t":"25052304","o":111090,"h":111350,"l":110590,"c":110650},{"t":"25052308","o":110690,"h":111350,"l":108900,"c":108985},{"t":"25052312","o":109045,"h":109100,"l":107240,"c":108845},{"t":"25052316","o":108905,"h":108950,"l":108500,"c":108585},{"t":"25052320","o":108645,"h":108700,"l":106840,"c":107240},
{"t":"25052400","o":107240,"h":108420,"l":106880,"c":108345},{"t":"25052404","o":108385,"h":108450,"l":107480,"c":107540},{"t":"25052408","o":107540,"h":109250,"l":107480,"c":109185},{"t":"25052412","o":109185,"h":109350,"l":108800,"c":108885},{"t":"25052416","o":108820,"h":109045,"l":108645,"c":108880},{"t":"25052420","o":108905,"h":109000,"l":107600,"c":107640},
{"t":"25052500","o":107640,"h":108100,"l":107100,"c":108040},{"t":"25052504","o":108080,"h":108150,"l":107500,"c":107580},{"t":"25052508","o":107640,"h":107700,"l":106700,"c":107180},{"t":"25052512","o":107200,"h":107250,"l":106580,"c":106840},{"t":"25052516","o":106840,"h":107750,"l":106640,"c":107680},{"t":"25052520","o":107680,"h":109000,"l":107140,"c":108945},
{"t":"25052600","o":108885,"h":109785,"l":108800,"c":109585},{"t":"25052604","o":109545,"h":110245,"l":109480,"c":110045},{"t":"25052608","o":110005,"h":110080,"l":109650,"c":109705},{"t":"25052612","o":109685,"h":110385,"l":109445,"c":110005},{"t":"25052616","o":110005,"h":110385,"l":108950,"c":109005},{"t":"25052620","o":109005,"h":109845,"l":108805,"c":109385},
{"t":"25052700","o":109485,"h":109550,"l":107480,"c":108845},{"t":"25052704","o":108805,"h":109645,"l":108585,"c":109505},{"t":"25052708","o":109515,"h":109945,"l":109405,"c":109575},{"t":"25052712","o":109505,"h":110705,"l":108645,"c":110105},{"t":"25052716","o":110105,"h":110385,"l":109800,"c":109845},{"t":"25052720","o":109845,"h":109900,"l":108780,"c":108845},
{"t":"25052800","o":108845,"h":108900,"l":108345,"c":108745},{"t":"25052804","o":108905,"h":109085,"l":108750,"c":108805},{"t":"25052808","o":108915,"h":109085,"l":108245,"c":108975},{"t":"25052812","o":108805,"h":108900,"l":107000,"c":107040},{"t":"25052816","o":107080,"h":107150,"l":106780,"c":106840},{"t":"25052820","o":106840,"h":107850,"l":106740,"c":107780},
{"t":"25052900","o":107740,"h":108440,"l":107440,"c":108000},{"t":"25052904","o":108000,"h":108440,"l":106940,"c":107740},{"t":"25052908","o":107740,"h":108845,"l":107680,"c":108745},{"t":"25052912","o":108745,"h":108785,"l":106440,"c":106940},{"t":"25052916","o":106980,"h":107050,"l":105640,"c":105700},{"t":"25052920","o":105740,"h":105800,"l":105440,"c":105500},
{"t":"25053000","o":105500,"h":106240,"l":104575,"c":106040},{"t":"25053004","o":106040,"h":106240,"l":104880,"c":104935},{"t":"25053008","o":104937,"h":105950,"l":104575,"c":105839},{"t":"25053012","o":105839,"h":105950,"l":105440,"c":105500},{"t":"25053016","o":105540,"h":105600,"l":103700,"c":104575},{"t":"25053020","o":104640,"h":104700,"l":103880,"c":103935},
{"t":"25053100","o":103975,"h":104030,"l":103090,"c":103635},{"t":"25053104","o":103660,"h":103935,"l":103430,"c":103720},{"t":"25053108","o":103735,"h":103800,"l":103295,"c":103435},{"t":"25053112","o":103435,"h":104550,"l":103380,"c":104495},{"t":"25053116","o":104475,"h":104800,"l":104235,"c":104735},{"t":"25053120","o":104695,"h":104880,"l":104470,"c":104535},
{"t":"25060100","o":104575,"h":104630,"l":104220,"c":104275},{"t":"25060104","o":104335,"h":104400,"l":104140,"c":104195},{"t":"25060108","o":104295,"h":104350,"l":103900,"c":103975},{"t":"25060112","o":103975,"h":104780,"l":103735,"c":104695},{"t":"25060116","o":104635,"h":105240,"l":104295,"c":105100},{"t":"25060120","o":105040,"h":105840,"l":104980,"c":105580},
{"t":"25060200","o":105620,"h":105700,"l":104575,"c":104775},{"t":"25060204","o":104735,"h":105450,"l":104680,"c":105380},{"t":"25060208","o":105340,"h":105900,"l":103895,"c":103975},{"t":"25060212","o":103975,"h":104635,"l":103635,"c":104375},{"t":"25060216","o":104375,"h":104635,"l":104035,"c":104235},{"t":"25060220","o":104335,"h":105900,"l":104280,"c":105840},
{"t":"25060300","o":105840,"h":106500,"l":105450,"c":105500},{"t":"25060304","o":105480,"h":105540,"l":105040,"c":105100},{"t":"25060308","o":105040,"h":105300,"l":104840,"c":105240},{"t":"25060312","o":105140,"h":106740,"l":105080,"c":106540},{"t":"25060316","o":106580,"h":106700,"l":106080,"c":106140},{"t":"25060320","o":106180,"h":106250,"l":105240,"c":105300},
{"t":"25060400","o":105300,"h":105980,"l":105240,"c":105480},{"t":"25060404","o":105500,"h":105560,"l":105180,"c":105240},{"t":"25060408","o":105300,"h":105360,"l":104920,"c":104980},{"t":"25060412","o":104980,"h":105540,"l":104175,"c":105300},{"t":"25060416","o":105300,"h":105500,"l":104780,"c":104835},{"t":"25060420","o":104875,"h":104930,"l":104435,"c":104635},
{"t":"25060500","o":104635,"h":105340,"l":104580,"c":104995},{"t":"25060504","o":104995,"h":105140,"l":104380,"c":104435},{"t":"25060508","o":104435,"h":104900,"l":104235,"c":104835},{"t":"25060512","o":104875,"h":105900,"l":104380,"c":104435},{"t":"25060516","o":104535,"h":105035,"l":101590,"c":101830},{"t":"25060520","o":101870,"h":101930,"l":100370,"c":101470},
{"t":"25060600","o":101470,"h":102530,"l":101090,"c":102470},{"t":"25060604","o":102390,"h":103150,"l":102330,"c":103090},{"t":"25060608","o":103075,"h":104000,"l":103020,"c":103935},{"t":"25060612","o":103895,"h":105280,"l":103830,"c":105035},{"t":"25060616","o":105035,"h":105100,"l":104100,"c":104175},{"t":"25060620","o":104175,"h":104575,"l":104120,"c":104275},
{"t":"25060700","o":104175,"h":104900,"l":103575,"c":104835},{"t":"25060704","o":104835,"h":105240,"l":104680,"c":104735},{"t":"25060708","o":104735,"h":105240,"l":104680,"c":105135},{"t":"25060712","o":105100,"h":105780,"l":105040,"c":105540},{"t":"25060716","o":105480,"h":105840,"l":105420,"c":105740},{"t":"25060720","o":105700,"h":105900,"l":105420,"c":105480},
{"t":"25060800","o":105580,"h":105740,"l":105320,"c":105380},{"t":"25060804","o":105500,"h":105560,"l":105320,"c":105380},{"t":"25060808","o":105380,"h":105780,"l":105320,"c":105680},{"t":"25060812","o":105580,"h":106000,"l":105520,"c":105940},{"t":"25060816","o":105940,"h":106340,"l":105880,"c":106280},{"t":"25060820","o":106240,"h":106440,"l":105580,"c":105640},
{"t":"25060900","o":105680,"h":105740,"l":105340,"c":105580},{"t":"25060904","o":105640,"h":105700,"l":105300,"c":105440},{"t":"25060908","o":105460,"h":107780,"l":105400,"c":107700},{"t":"25060912","o":107700,"h":107940,"l":106840,"c":107540},{"t":"25060916","o":107540,"h":108600,"l":107480,"c":108540},{"t":"25060920","o":108480,"h":110450,"l":108420,"c":110210},
{"t":"25061000","o":110210,"h":110290,"l":109300,"c":109586},{"t":"25061004","o":109568,"h":109738,"l":109161,"c":109450}
]},
"layer":[
{"mark":{"type":"rule","strokeWidth":1},"encoding":{"y":{"field":"l","type":"quantitative","title":null,"scale":{"domain":[69654,121769],"nice":false,"zero":false},"axis":{"orient":"right","grid":false,"domain":false,"ticks":false,"labelAlign":"right","labelPadding":-8,"labelFont":"Roboto","labelFontSize":12,"labelColor":"#a9acb4","labelOverlap":false,"labelBound":false,"labelFlush":false,"values":[72000,74000,76000,78000,80000,82000,84000,86000,88000,90000,92000,94000,96000,98000,100000,102000,104000,106000,108000,110000,112000,114000,116000,118000,120000],"labelExpr":"floor(datum.value/1000)+'.000,00'"}},"y2":{"field":"h"},"color":{"condition":{"test":"datum.c>=datum.o","value":"#ffffff"},"value":"#5d606b"}}},
{"mark":{"type":"rule","strokeWidth":3},"encoding":{"y":{"field":"o","type":"quantitative","title":null,"scale":{"domain":[69654,121769],"nice":false,"zero":false},"axis":{"orient":"right","grid":false,"domain":false,"ticks":false,"labelAlign":"right","labelPadding":-8,"labelFont":"Roboto","labelFontSize":12,"labelColor":"#a9acb4","labelOverlap":false,"labelBound":false,"labelFlush":false,"values":[72000,74000,76000,78000,80000,82000,84000,86000,88000,90000,92000,94000,96000,98000,100000,102000,104000,106000,108000,110000,112000,114000,116000,118000,120000],"labelExpr":"floor(datum.value/1000)+'.000,00'"}},"y2":{"field":"c"},"color":{"condition":{"test":"datum.c>=datum.o","value":"#ffffff"},"value":"#5d606b"}}}
]},
{"data":{"values":[{"t":"2025-06-14T05:08:00Z","t2":"2025-06-17T11:50:00Z","p":121709,"p2":120146}]},"mark":{"type":"rect","fill":"#000000","stroke":"#2a2e39","strokeWidth":1.5,"cornerRadius":4},"encoding":{"x2":{"field":"t2"},"y2":{"field":"p2"}}},
{"data":{"values":[{"t":"2025-06-11T08:32:00Z","t2":"2025-06-14T00:38:00Z","p":109927,"p2":108905},{"t":"2025-06-14T01:44:00Z","t2":"2025-06-17T11:50:00Z","p":109927,"p2":108064}]},"mark":{"type":"rect","fill":"#5d606b"},"encoding":{"x2":{"field":"t2"},"y2":{"field":"p2"}}},
{"data":{"values":[
{"t":"2025-03-25T00:12:00Z","p":121048,"s":"BTCUSDT · Bitcoin / TetherUS · 4sa · BINANCE","k":"head"},
{"t":"2025-04-05T20:44:00Z","p":121048,"s":"A","k":"head"},{"t":"2025-04-06T05:44:00Z","p":121048,"s":"109.568,03","k":"val"},
{"t":"2025-04-09T07:56:00Z","p":121048,"s":"Y","k":"head"},{"t":"2025-04-09T16:56:00Z","p":121048,"s":"109.737,68","k":"val"},
{"t":"2025-04-12T19:08:00Z","p":121048,"s":"D","k":"head"},{"t":"2025-04-13T04:08:00Z","p":121048,"s":"109.161,00","k":"val"},
{"t":"2025-04-16T06:20:00Z","p":121048,"s":"K","k":"head"},{"t":"2025-04-16T15:20:00Z","p":121048,"s":"109.450,40","k":"val"},
{"t":"2025-04-19T17:38:00Z","p":121048,"s":"−117,62 (−0,11%)","k":"val"},
{"t":"2025-03-25T00:12:00Z","p":120026,"s":"TM","k":"head"},
{"t":"2025-06-14T15:14:00Z","p":120927,"s":"USDT","k":"head"},
{"t":"2025-06-14T10:44:00Z","p":108605,"s":"54:25","k":"head"}
]},"mark":{"type":"text","align":"left","baseline":"middle","font":"Roboto","fontSize":12},"encoding":{"text":{"field":"s"},"color":{"field":"k","type":"nominal","legend":null,"scale":{"domain":["up","down","head","val"],"range":["#0030ff","#ff0000","#c8cad0","#6f727c"]}}}},
{"data":{"values":[{"t":"2025-06-14T10:44:00Z","p":109410,"s":"109.450,40"}]},"mark":{"type":"text","align":"left","baseline":"middle","font":"Roboto","fontSize":12,"fontWeight":"bold","fill":"#ffffff"},"encoding":{"text":{"field":"s"}}},
{"data":{"values":[{"t":"2025-06-12T16:38:00Z","p":109410,"s":"BTCUSDT"}]},"mark":{"type":"text","align":"center","baseline":"middle","font":"Roboto","fontSize":11.5,"fill":"#e6e7ea"},"encoding":{"text":{"field":"s"}}},
{"data":{"values":[{"t":"2025-06-10T05:32:00Z","p":72057}]},"mark":{"type":"point","shape":"circle","size":320,"filled":false,"stroke":"#a33ad0","strokeWidth":1.5}},
{"data":{"values":[{"t":"2025-06-10T05:32:00Z","p":72057,"s":"⚡"}]},"mark":{"type":"text","align":"center","baseline":"middle","font":"DejaVu Sans","fontSize":12,"fill":"#a33ad0"},"encoding":{"text":{"field":"s"}}}
]}
